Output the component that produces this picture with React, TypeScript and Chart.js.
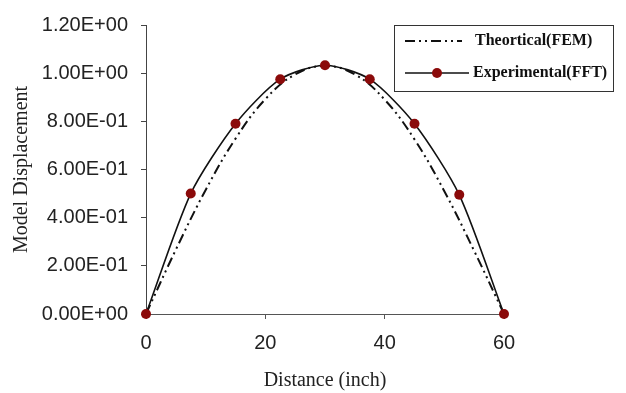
import React, { useEffect, useRef } from "react";
import { Chart, registerables } from "chart.js";

Chart.register(...registerables);

const experimentalDistances = [0, 7.5, 15, 22.5, 30, 37.5, 45, 52.5, 60];
const experimentalValues = [0, 0.5, 0.79, 0.975, 1.033, 0.975, 0.79, 0.495, 0];

const theoryDistances = [0, 5, 10, 15, 20, 25, 30, 35, 40, 45, 50, 55, 60];
const theoryValues = [0, 0.267, 0.515, 0.728, 0.892, 0.995, 1.03, 0.995, 0.89, 0.725, 0.51, 0.262, 0];

const yTickLabels = ["0.00E+00", "2.00E-01", "4.00E-01", "6.00E-01", "8.00E-01", "1.00E+00", "1.20E+00"];
const xTickLabels = ["0", "20", "40", "60"];

const seriesNames = ["Theortical(FEM)", "Experimental(FFT)"];
const xTitle = "Distance (inch)";
const yTitle = "Model Displacement";

const MARKER = "#8b0a0a";
const DASH = [10, 4, 2, 4, 2, 4];

const legendPlugin = {
  id: "boxLegend",
  afterDraw(chart: any) {
    const ctx = chart.ctx;
    const ds = chart.data.datasets;
    ctx.save();
    const bx = 394.5, by = 25.5, bw = 219, bh = 66;
    ctx.fillStyle = "#ffffff";
    ctx.fillRect(bx, by, bw, bh);
    ctx.strokeStyle = "#333";
    ctx.lineWidth = 1;
    ctx.setLineDash([]);
    ctx.strokeRect(bx, by, bw, bh);

    ctx.font = 'bold 16px "Liberation Serif", "Times New Roman", serif';
    ctx.fillStyle = "#111";
    ctx.textBaseline = "middle";
    ctx.textAlign = "left";

    // theoretical
    const theo = ds.find((d: any) => d.label === seriesNames[0]);
    ctx.strokeStyle = "#111";
    ctx.lineWidth = 2;
    ctx.setLineDash(DASH);
    ctx.beginPath();
    ctx.moveTo(405, 41);
    ctx.lineTo(462, 41);
    ctx.stroke();
    ctx.setLineDash([]);
    ctx.fillText(theo.label, 475, 41);

    // experimental
    const exp = ds.find((d: any) => d.label === seriesNames[1]);
    ctx.lineWidth = 1.6;
    ctx.beginPath();
    ctx.moveTo(405, 73);
    ctx.lineTo(469, 73);
    ctx.stroke();
    ctx.fillStyle = MARKER;
    ctx.beginPath();
    ctx.arc(437, 73, 5, 0, Math.PI * 2);
    ctx.fill();
    ctx.fillStyle = "#111";
    ctx.fillText(exp.label, 473, 73);
    ctx.restore();
  },
};

export default function App() {
  const ref = useRef<HTMLCanvasElement | null>(null);

  useEffect(() => {
    document.body.style.margin = "0";
    const canvas = ref.current;
    if (!canvas) return;
    const tickFont = { family: '"Liberation Sans", Arial, sans-serif', size: 20 };
    const titleFont = { family: '"Liberation Serif", "Times New Roman", serif', size: 20 };
    const chart = new Chart(canvas, {
      type: "line",
      data: {
        datasets: [
          {
            label: seriesNames[1],
            data: experimentalDistances.map((x, i) => ({ x, y: experimentalValues[i] })),
            borderColor: "#111",
            borderWidth: 1.6,
            pointBackgroundColor: MARKER,
            pointBorderColor: MARKER,
            pointRadius: 5,
            pointBorderWidth: 0,
            tension: 0.25,
            fill: false,
            order: 0,
            clip: false,
          },
          {
            label: seriesNames[0],
            data: theoryDistances.map((x, i) => ({ x, y: theoryValues[i] })),
            borderColor: "#111",
            borderWidth: 2,
            borderDash: DASH,
            pointRadius: 0,
            tension: 0.4,
            fill: false,
            order: 1,
          },
        ],
      },
      options: {
        responsive: false,
        animation: false,
        events: [],
        layout: { padding: { top: 22, right: 122, bottom: 0, left: 0 } },
        plugins: {
          legend: { display: false },
          tooltip: { enabled: false },
        },
        scales: {
          x: {
            type: "linear",
            min: 0,
            max: 60,
            afterFit: (s: any) => { s.height = 79; },
            ticks: {
              stepSize: 20,
              padding: 12,
              color: "#222",
              font: tickFont,
              callback: (_v: any, i: number) => xTickLabels[i],
            },
            grid: { drawOnChartArea: false, drawTicks: true, tickLength: 5, color: "#555" },
            border: { display: true, color: "#555", width: 1 },
            title: { display: true, text: xTitle, color: "#222", font: titleFont, padding: { top: 0, bottom: 0 } },
          },
          y: {
            type: "linear",
            min: 0,
            max: 1.2,
            afterFit: (s: any) => { s.width = 146; },
            ticks: {
              stepSize: 0.2,
              padding: 13,
              color: "#222",
              font: tickFont,
              callback: (_v: any, i: number) => yTickLabels[i],
            },
            grid: { drawOnChartArea: false, drawTicks: true, tickLength: 5, color: "#444" },
            border: { display: true, color: "#444", width: 1 },
            title: { display: true, text: yTitle, color: "#222", font: titleFont, padding: { top: 10, bottom: 0 } },
          },
        },
      },
      plugins: [legendPlugin],
    } as any);
    return () => chart.destroy();
  }, []);

  return (
    <div style={{ position: "fixed", left: 0, top: 0, width: 626, height: 393, background: "#fff" }}>
      <canvas ref={ref} width={626} height={393} style={{ width: 626, height: 393, display: "block" }} />
    </div>
  );
}
